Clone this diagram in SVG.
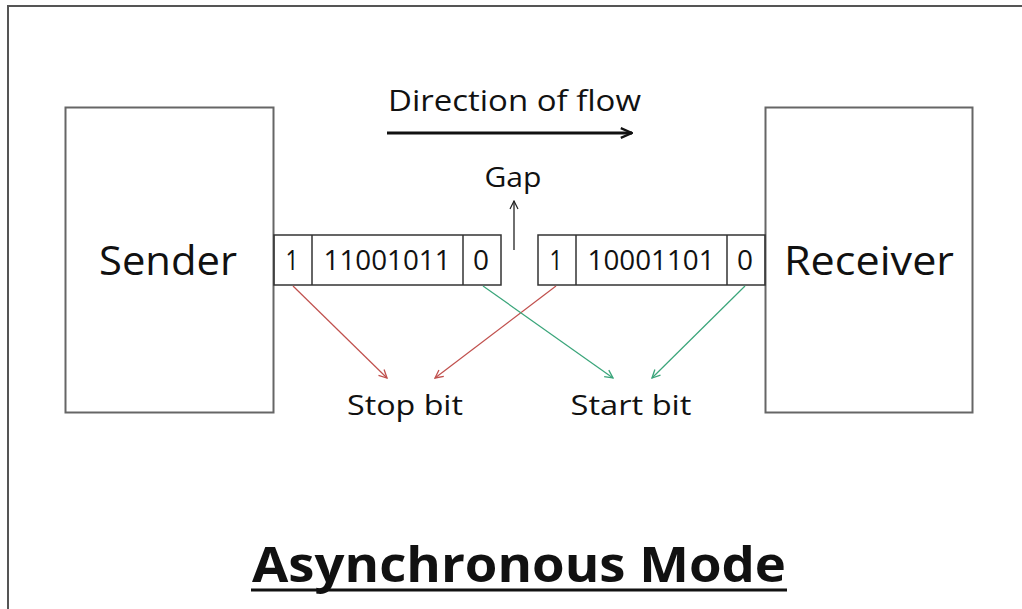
<svg xmlns="http://www.w3.org/2000/svg" width="1022" height="609" viewBox="0 0 1022 609">
<style>
text{font-family:"Open Sans","Liberation Sans",sans-serif;fill:#111}
.box{fill:#fff;stroke:#666;stroke-width:2}
.cell{fill:none;stroke:#333;stroke-width:1.5}
.red{stroke:#c0504d;stroke-width:1.2;fill:none}
.grn{stroke:#3aa57a;stroke-width:1.2;fill:none}
</style>
<defs>
<marker id="ar" viewBox="0 0 10 10" refX="9" refY="5" markerWidth="10" markerHeight="10" markerUnits="userSpaceOnUse" orient="auto"><path d="M1,1 L9,5 L1,9" fill="none" stroke="#c0504d" stroke-width="1.3"/></marker>
<marker id="ag" viewBox="0 0 10 10" refX="9" refY="5" markerWidth="10" markerHeight="10" markerUnits="userSpaceOnUse" orient="auto"><path d="M1,1 L9,5 L1,9" fill="none" stroke="#3aa57a" stroke-width="1.3"/></marker>
<marker id="ak" viewBox="0 0 10 10" refX="9" refY="5" markerWidth="14" markerHeight="14" markerUnits="userSpaceOnUse" orient="auto"><path d="M1,1.5 L9,5 L1,8.5" fill="none" stroke="#111" stroke-width="1.6"/></marker>
<marker id="ag2" viewBox="0 0 10 10" refX="9" refY="5" markerWidth="10" markerHeight="10" markerUnits="userSpaceOnUse" orient="auto"><path d="M1,1 L9,5 L1,9" fill="none" stroke="#222" stroke-width="1.2"/></marker>
</defs>
<rect width="1022" height="609" fill="#fff"/>
<path d="M8,612 L8,6 L1025,6" fill="none" stroke="#555" stroke-width="2"/>
<g id="sender">
<rect class="box" x="65.5" y="107.5" width="208" height="305"/>
<text x="168" y="275" font-size="40" text-anchor="middle" textLength="138" lengthAdjust="spacingAndGlyphs">Sender</text>
</g>
<g id="receiver">
<rect class="box" x="765.5" y="107.5" width="207" height="305"/>
<text x="869" y="275" font-size="40" text-anchor="middle" textLength="170" lengthAdjust="spacingAndGlyphs">Receiver</text>
</g>
<g id="frame1">
<rect class="cell" x="274" y="235" width="227" height="50"/>
<line class="cell" x1="312" y1="235" x2="312" y2="285"/>
<line class="cell" x1="463" y1="235" x2="463" y2="285"/>
<text x="292" y="270" font-size="28" text-anchor="middle" textLength="13" lengthAdjust="spacingAndGlyphs">1</text>
<text x="387" y="270" font-size="28" text-anchor="middle" textLength="127" lengthAdjust="spacingAndGlyphs">11001011</text>
<text x="481" y="270" font-size="28" text-anchor="middle" textLength="16" lengthAdjust="spacingAndGlyphs">0</text>
</g>
<g id="frame2">
<rect class="cell" x="538" y="235" width="227" height="50"/>
<line class="cell" x1="576" y1="235" x2="576" y2="285"/>
<line class="cell" x1="727" y1="235" x2="727" y2="285"/>
<text x="556" y="270" font-size="28" text-anchor="middle" textLength="13" lengthAdjust="spacingAndGlyphs">1</text>
<text x="651" y="270" font-size="28" text-anchor="middle" textLength="127" lengthAdjust="spacingAndGlyphs">10001101</text>
<text x="745" y="270" font-size="28" text-anchor="middle" textLength="16" lengthAdjust="spacingAndGlyphs">0</text>
</g>
<g id="direction">
<text x="388" y="111" font-size="30" textLength="253" lengthAdjust="spacingAndGlyphs">Direction of flow</text>
</g>
<g id="gap">
<text x="513" y="187" font-size="27" text-anchor="middle" textLength="57" lengthAdjust="spacingAndGlyphs">Gap</text>
</g>
<g id="stopbit">
<text x="405" y="415" font-size="28" text-anchor="middle" textLength="116" lengthAdjust="spacingAndGlyphs">Stop bit</text>
</g>
<g id="startbit">
<text x="631" y="415" font-size="28" text-anchor="middle" textLength="121" lengthAdjust="spacingAndGlyphs">Start bit</text>
</g>
<g id="title">
<text x="519" y="582" font-size="49" font-weight="bold" text-anchor="middle" textLength="534" lengthAdjust="spacingAndGlyphs">Asynchronous Mode</text>
<line x1="251" y1="590" x2="787" y2="590" stroke="#111" stroke-width="3"/>
</g>
<g id="connectors">
<line x1="387" y1="133" x2="632" y2="133" stroke="#111" stroke-width="3" marker-end="url(#ak)"/>
<line x1="514" y1="250" x2="514" y2="201" stroke="#222" stroke-width="1.3" marker-end="url(#ag2)"/>
<line class="red" x1="293" y1="286" x2="387" y2="378" marker-end="url(#ar)"/>
<line class="red" x1="556" y1="286" x2="435" y2="378" marker-end="url(#ar)"/>
<line class="grn" x1="483" y1="286" x2="613" y2="378" marker-end="url(#ag)"/>
<line class="grn" x1="745" y1="286" x2="652" y2="378" marker-end="url(#ag)"/>
</g>
</svg>
